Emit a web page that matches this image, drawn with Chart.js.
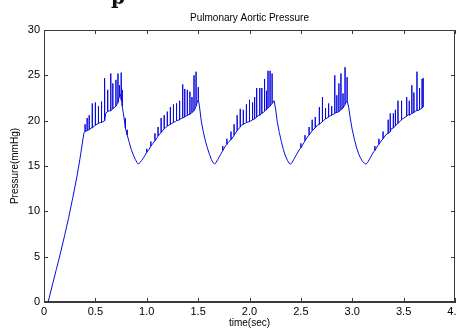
<!DOCTYPE html>
<html>
<head>
<meta charset="utf-8">
<script src="https://cdn.jsdelivr.net/npm/chart.js@4.4.1/dist/chart.umd.min.js"></script>
<style>
  html, body { margin: 0; padding: 0; background: #fff; }
  #wrap { width: 457px; height: 329px; }
</style>
</head>
<body>
<div id="wrap"><canvas id="chart" width="457" height="329"></canvas></div>
<script>
// Slow trace (time in sec, pressure in mmHg)
const baseTime = [
  0.04, 0.08, 0.12, 0.16, 0.20, 0.24, 0.28, 0.32, 0.35, 0.38, 0.39,
  0.42, 0.46, 0.50, 0.55, 0.59, 0.60, 0.64, 0.68, 0.71, 0.73,
  0.745, 0.755, 0.765, 0.78, 0.795, 0.81, 0.83, 0.85, 0.87, 0.89,
  0.905, 0.92, 0.935, 0.95, 0.98, 1.02, 1.06, 1.10, 1.14, 1.18,
  1.23, 1.28, 1.33, 1.38, 1.43, 1.47, 1.49, 1.505, 1.515, 1.53,
  1.55, 1.57, 1.59, 1.61, 1.63, 1.645, 1.66, 1.675, 1.69, 1.72,
  1.76, 1.80, 1.84, 1.88, 1.92, 1.97, 2.03, 2.09, 2.15, 2.19,
  2.22, 2.24, 2.255, 2.27, 2.29, 2.31, 2.33, 2.35, 2.37, 2.385,
  2.40, 2.415, 2.43, 2.46, 2.49, 2.53, 2.57, 2.61, 2.66, 2.72,
  2.78, 2.84, 2.90, 2.93, 2.95, 2.965, 2.98, 3.00, 3.02, 3.04,
  3.06, 3.08, 3.10, 3.12, 3.135, 3.15, 3.17, 3.21, 3.25, 3.29,
  3.33, 3.38, 3.43, 3.49, 3.55, 3.62, 3.69
];
const basePressure = [
  0, 1.8, 3.6, 5.4, 7.3, 9.3, 11.5, 13.8, 15.8, 18.0, 18.7,
  18.9, 19.2, 19.5, 19.8, 20.0, 20.8, 21.1, 21.4, 21.8, 22.6,
  22.9, 22.3, 21.6, 20.2, 19.2, 18.4, 17.6, 16.8, 16.2, 15.7,
  15.4, 15.2, 15.4, 15.6, 16.1, 16.8, 17.5, 18.1, 18.7, 19.2,
  19.6, 19.9, 20.2, 20.5, 20.8, 21.3, 22.0, 22.4, 21.4, 20.0,
  18.8, 17.8, 17.0, 16.3, 15.7, 15.4, 15.2, 15.4, 15.7, 16.3,
  17.1, 17.7, 18.2, 18.9, 19.5, 19.8, 20.1, 20.6, 21.1, 21.5,
  21.9, 22.2, 21.2, 19.9, 18.7, 17.7, 16.8, 16.1, 15.6, 15.3,
  15.2, 15.4, 15.7, 16.3, 16.9, 17.6, 18.3, 18.9, 19.5, 20.0,
  20.5, 20.9, 21.3, 21.8, 22.2, 21.5, 20.3, 19.0, 18.0, 17.1,
  16.4, 15.9, 15.5, 15.3, 15.2, 15.4, 15.8, 16.6, 17.3, 17.9,
  18.5, 19.1, 19.6, 20.2, 20.7, 21.1, 21.5
];

// Fast spikes riding on the trace: time, foot, tip
const spikeTime = [
  0.40, 0.42, 0.44, 0.47, 0.50, 0.53, 0.56, 0.59, 0.62, 0.65, 0.67, 0.70, 0.72, 0.735, 0.75, 0.76, 0.79, 0.81,
  1.00, 1.04, 1.08, 1.11, 1.14, 1.17, 1.20, 1.23, 1.26, 1.29, 1.32, 1.35, 1.37, 1.395, 1.42, 1.44, 1.46, 1.48, 1.50,
  1.74, 1.78, 1.82, 1.85, 1.88, 1.91, 1.94, 1.97, 2.00, 2.03, 2.05, 2.07, 2.10, 2.12, 2.145, 2.165, 2.18, 2.20, 2.22,
  2.50, 2.54, 2.58, 2.61, 2.64, 2.68, 2.71, 2.74, 2.77, 2.80, 2.83, 2.85, 2.87, 2.89, 2.91, 2.93, 2.95,
  3.22, 3.26, 3.30, 3.35, 3.37, 3.40, 3.42, 3.445, 3.48, 3.53, 3.555, 3.58, 3.60, 3.63, 3.655, 3.68, 3.69
];
const spikeBase = [
  18.8, 18.9, 19.0, 19.2, 19.5, 19.7, 19.8, 20.0, 21.0, 21.1, 21.3, 21.6, 22.0, 22.7, 22.6, 22.0, 19.5, 18.4,
  16.5, 17.2, 17.8, 18.3, 18.7, 19.1, 19.4, 19.6, 19.8, 20.0, 20.1, 20.3, 20.4, 20.6, 20.7, 20.9, 21.1, 21.6, 22.3,
  16.7, 17.4, 17.9, 18.4, 18.9, 19.3, 19.6, 19.8, 19.9, 20.1, 20.2, 20.4, 20.6, 20.8, 21.0, 21.2, 21.4, 21.6, 21.9,
  17.0, 17.8, 18.4, 18.9, 19.2, 19.6, 19.9, 20.2, 20.4, 20.6, 20.8, 20.9, 21.0, 21.2, 21.4, 21.8, 22.2,
  16.7, 17.4, 18.0, 18.6, 18.8, 19.2, 19.4, 19.7, 20.1, 20.5, 20.6, 20.8, 20.9, 21.1, 21.2, 21.4, 21.5
];
const spikeTop = [
  19.6, 20.3, 20.6, 21.9, 22.0, 21.6, 22.1, 24.7, 23.4, 25.2, 24.1, 24.5, 25.2, 23.9, 25.3, 23.4, 20.3, 19.0,
  16.9, 17.7, 18.6, 19.3, 20.3, 20.6, 21.0, 21.5, 21.8, 21.9, 22.2, 24.0, 23.5, 23.4, 23.2, 22.6, 25.0, 25.4, 23.7,
  17.2, 18.0, 18.8, 19.6, 20.6, 21.3, 21.2, 21.8, 22.3, 22.0, 22.6, 23.6, 23.6, 23.6, 24.6, 23.3, 25.5, 25.5, 25.2,
  17.5, 18.4, 19.3, 20.1, 20.4, 21.5, 22.6, 21.4, 21.9, 21.6, 25.0, 22.8, 24.1, 25.2, 23.0, 25.9, 24.8,
  17.2, 18.0, 18.8, 20.1, 20.8, 20.8, 21.2, 22.2, 22.2, 22.6, 22.2, 23.9, 23.1, 25.4, 23.6, 24.6, 24.7
];

const xTicks = [0, 0.5, 1, 1.5, 2, 2.5, 3, 3.5, 4];
const yTicks = [0, 5, 10, 15, 20, 25, 30];

// merge trace and spikes into one time-ordered line
const points = [];
baseTime.forEach((t, i) => points.push({ x: t, y: basePressure[i] }));
spikeTime.forEach((t, i) => {
    points.push({ x: t, y: spikeBase[i] }, { x: t, y: spikeTop[i] }, { x: t, y: spikeBase[i] });
});
points.sort((a, b) => a.x - b.x);

// matlab style box with inward ticks on all four sides
const boxTicks = {
    id: 'boxTicks',
    afterDraw(chart) {
        const { ctx, chartArea: a, scales } = chart;
        ctx.save();
        ctx.strokeStyle = '#3a3a3a';
        ctx.lineWidth = 1;
        ctx.strokeRect(a.left + 0.5, a.top + 0.5, a.right - a.left - 1, a.bottom - a.top - 1);
        ctx.beginPath();
        xTicks.forEach(v => {
            const px = Math.round(scales.x.getPixelForValue(v)) + 0.5;
            ctx.moveTo(px, a.bottom); ctx.lineTo(px, a.bottom - 4);
            ctx.moveTo(px, a.top); ctx.lineTo(px, a.top + 4);
        });
        yTicks.forEach(v => {
            const py = Math.round(scales.y.getPixelForValue(v)) + 0.5;
            ctx.moveTo(a.left, py); ctx.lineTo(a.left + 4, py);
            ctx.moveTo(a.right, py); ctx.lineTo(a.right - 4, py);
        });
        ctx.stroke();
        // tail of a letter cut off at the top edge of the screenshot
        ctx.fillStyle = '#111';
        ctx.font = 'bold 20px "DejaVu Serif", serif';
        ctx.textBaseline = 'alphabetic';
        ctx.fillText('p', 111, 4);
        ctx.restore();
    }
};

const font = 'Liberation Sans, Arial, sans-serif';

new Chart(document.getElementById('chart'), {
    type: 'line',
    data: {
        datasets: [{
            data: points,
            borderColor: '#0a0ae0',
            borderWidth: 1,
            pointRadius: 0,
            tension: 0,
            fill: false
        }]
    },
    options: {
        responsive: false,
        animation: false,
        devicePixelRatio: 1,
        layout: { padding: { left: 0, right: 2, top: 0, bottom: 0 } },
        plugins: {
            legend: { display: false },
            tooltip: { enabled: false },
            title: {
                display: true,
                fullSize: false,
                text: 'Pulmonary Aortic Pressure',
                color: '#000',
                font: { family: font, size: 10, weight: 'normal' },
                padding: { top: 12, bottom: 6 }
            }
        },
        scales: {
            x: {
                type: 'linear',
                min: 0,
                max: 4,
                afterBuildTicks: s => { s.ticks = xTicks.map(v => ({ value: v })); },
                afterFit: s => { s.paddingLeft = 0; s.paddingRight = 0; s.height = 27; },
                ticks: { color: '#000', font: { family: font, size: 11 }, padding: 3, maxRotation: 0 },
                grid: { drawOnChartArea: false, drawTicks: false },
                border: { color: '#3a3a3a' },
                title: {
                    display: true,
                    text: 'time(sec)',
                    color: '#000',
                    font: { family: font, size: 10 },
                    padding: { top: 0, bottom: 0 }
                }
            },
            y: {
                min: 0,
                max: 30,
                afterBuildTicks: s => { s.ticks = yTicks.map(v => ({ value: v })); },
                afterFit: s => { s.width = 44; },
                ticks: { color: '#000', font: { family: font, size: 11 }, padding: 4 },
                grid: { drawOnChartArea: false, drawTicks: false },
                border: { color: '#3a3a3a' },
                title: {
                    display: true,
                    text: 'Pressure(mmHg)',
                    color: '#000',
                    font: { family: font, size: 10 },
                    padding: { top: 9, bottom: 0 }
                }
            }
        }
    },
    plugins: [boxTicks]
});
</script>
</body>
</html>
